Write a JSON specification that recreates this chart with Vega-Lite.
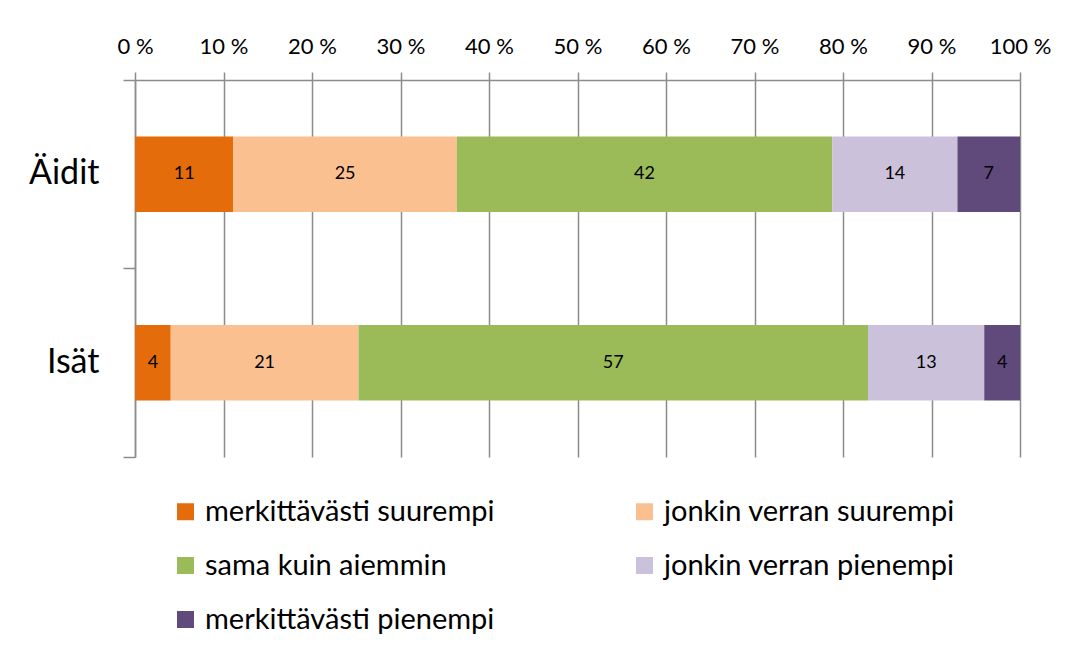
{
  "$schema": "https://vega.github.io/schema/vega-lite/v6.json",
  "autosize": {"type": "none"},
  "width": 885,
  "height": 377,
  "padding": {"left": 135, "top": 80, "right": 51, "bottom": 198},
  "background": "white",
  "config": {
    "font": "Lato",
    "view": {"stroke": null}
  },
  "data": {
    "values": [
      {"group": "Äidit", "category": "merkittävästi suurempi", "order": 1, "value": 11},
      {"group": "Äidit", "category": "jonkin verran suurempi", "order": 2, "value": 25},
      {"group": "Äidit", "category": "sama kuin aiemmin", "order": 3, "value": 42},
      {"group": "Äidit", "category": "jonkin verran pienempi", "order": 4, "value": 14},
      {"group": "Äidit", "category": "merkittävästi pienempi", "order": 5, "value": 7},
      {"group": "Isät", "category": "merkittävästi suurempi", "order": 1, "value": 4},
      {"group": "Isät", "category": "jonkin verran suurempi", "order": 2, "value": 21},
      {"group": "Isät", "category": "sama kuin aiemmin", "order": 3, "value": 57},
      {"group": "Isät", "category": "jonkin verran pienempi", "order": 4, "value": 13},
      {"group": "Isät", "category": "merkittävästi pienempi", "order": 5, "value": 4}
    ]
  },
  "encoding": {
    "y": {
      "field": "group",
      "type": "nominal",
      "sort": ["Äidit", "Isät"],
      "scale": {"paddingInner": 0, "paddingOuter": 0},
      "axis": {
        "title": null,
        "domainColor": "#8c8c8c",
        "domainWidth": 1.5,
        "tickColor": "#8c8c8c",
        "tickWidth": 1.5,
        "tickSize": 12,
        "bandPosition": 1,
        "tickExtra": true,
        "labelFontSize": 34,
        "labelColor": "#000000",
        "labelPadding": 24,
        "labelFont": "Lato"
      }
    },
    "order": {"field": "order", "type": "quantitative"}
  },
  "layer": [
    {
      "mark": {"type": "bar", "height": {"band": 0.4}},
      "encoding": {
        "x": {
          "field": "value",
          "type": "quantitative",
          "stack": "normalize",
          "scale": {"domain": [0, 1], "nice": false},
          "axis": {
            "orient": "top",
            "title": null,
            "values": [0, 0.1, 0.2, 0.3, 0.4, 0.5, 0.6, 0.7, 0.8, 0.9, 1],
            "labelExpr": "format(datum.value * 100, 'd') + ' %'",
            "labelFontSize": 22,
            "labelColor": "#000000",
            "labelPadding": 14,
            "tickSize": 8,
            "tickColor": "#8c8c8c",
            "tickWidth": 1.5,
            "domainColor": "#8c8c8c",
            "domainWidth": 1.5,
            "grid": true,
            "gridColor": "#8c8c8c",
            "gridWidth": 1.5,
            "labelFlush": false
          }
        },
        "color": {
          "field": "category",
          "type": "nominal",
          "scale": {
            "domain": ["merkittävästi suurempi", "jonkin verran suurempi", "sama kuin aiemmin", "jonkin verran pienempi", "merkittävästi pienempi"],
            "range": ["#E46C0A", "#FAC090", "#9BBB59", "#CCC1DA", "#604A7B"]
          },
          "legend": {
            "orient": "none",
            "legendX": 36,
            "legendY": 417,
            "direction": "horizontal",
            "columns": 2,
            "title": null,
            "padding": 0,
            "symbolType": "square",
            "symbolSize": 289,
            "symbolStrokeWidth": 0,
            "labelFontSize": 29,
            "labelColor": "#000000",
            "labelOffset": 5,
            "labelLimit": 500,
            "rowPadding": 24,
            "columnPadding": 135
          }
        }
      }
    },
    {
      "mark": {"type": "text", "fontSize": 18, "color": "#000000"},
      "encoding": {
        "x": {"field": "value", "type": "quantitative", "stack": "normalize", "bandPosition": 0.5},
        "text": {"field": "value", "type": "quantitative"}
      }
    }
  ]
}
